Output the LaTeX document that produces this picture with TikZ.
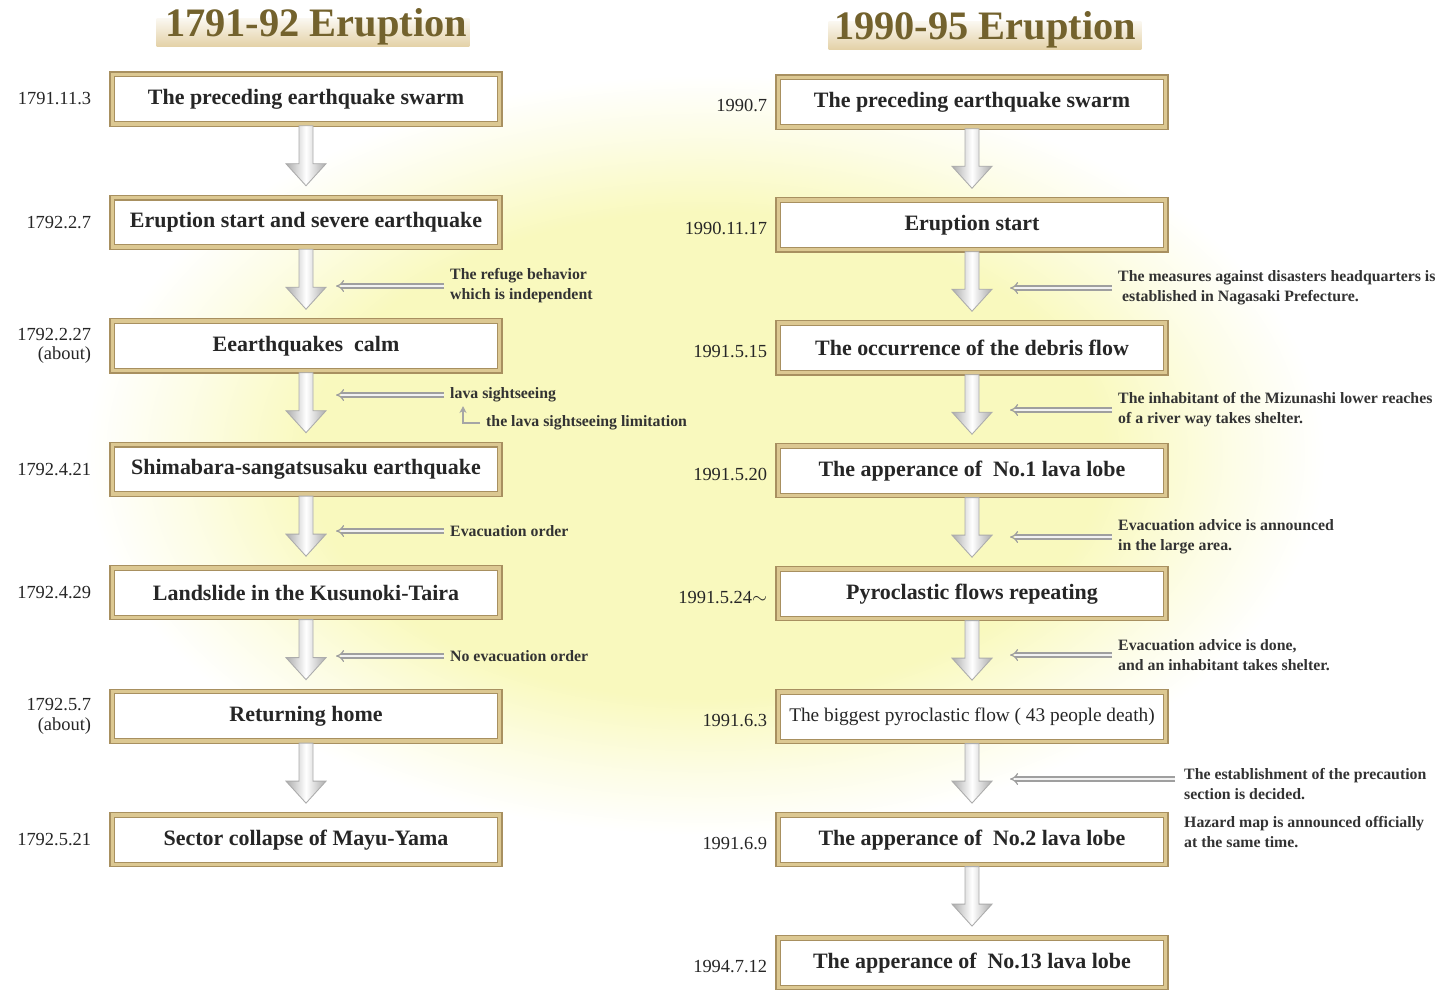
\documentclass[tikz,border=0pt]{standalone}
\usepackage{fontspec}
\setmainfont{Liberation Serif}
\usepackage{tikz}
\usetikzlibrary{positioning, calc, arrows.meta}

\definecolor{boxedge}{RGB}{168,144,96}
\definecolor{boxgold}{RGB}{220,200,146}
\definecolor{titletext}{RGB}{115,98,45}
\definecolor{titleband}{RGB}{228,210,168}
\definecolor{glowyellow}{RGB}{249,249,190}
\pgfdeclareradialshading{glow}{\pgfpoint{0bp}{0bp}}{color(0bp)=(glowyellow); color(16bp)=(glowyellow); color(21bp)=(glowyellow!40); color(25bp)=(white); color(50bp)=(white)}

\begin{document}
\begin{tikzpicture}[x=0.02cm, y=-0.02cm,
   event/.style={draw=boxedge, double=boxgold, double distance=2pt, line width=0.6pt,
      fill=white, minimum width=7.75cm, minimum height=0.99cm, outer sep=0pt,
      font=\fontsize{12.5}{14}\selectfont\bfseries, text=black!85},
   date/.style={font=\fontsize{10.5}{11}\selectfont, align=right, text=black!85},
   rdate/.style={date, yshift=-2pt},
   note/.style={font=\fontsize{9}{11.4}\selectfont\bfseries, align=left, anchor=west, text=black!80},
   heading/.style={font=\fontsize{23}{26}\selectfont\bfseries, text=titletext},
   band/.style={top color=titleband!15, bottom color=titleband, minimum width=6.26cm, minimum height=0.56cm, inner sep=0pt},
   sidearrow/.style={draw=gray!75, double=gray!10, double distance=1.6pt, line width=0.7pt, -{Implies[scale=1.4]}},
   hook/.style={draw=gray!70, line width=0.6pt, -{Stealth[length=4pt, width=4pt]}},
   bigarrow/.style={draw=gray!65, line width=0.5pt, left color=gray!65, right color=gray!65, middle color=white}]
   \path[use as bounding box, fill=white] (0,0) rectangle (1440,992);
   % yellow glow in the middle
   \shade[shading=glow] (705,455) ellipse [x radius=620, y radius=380];

   % Titles
   \node[band] (band1) at (313,32) {};
   \node[heading] (t1) at (316,27) {1791-92 Eruption};
   \node[band] (band2) at (985,35) {};
   \node[heading] (t2) at (985,30) {1990-95 Eruption};

   % 1791-92 chain
   \node[event] (l1) at (306,99) {The preceding earthquake swarm};
   \node[event, below = 1.48cm of l1] (l2) {Eruption start and severe earthquake};
   \node[event, below = 1.48cm of l2] (l3) {Eearthquakes~ calm};
   \node[event, below = 1.48cm of l3] (l4) {Shimabara-sangatsusaku earthquake};
   \node[event, below = 1.48cm of l4] (l5) {Landslide in the Kusunoki-Taira};
   \node[event, below = 1.48cm of l5] (l6) {Returning home};
   \node[event, below = 1.48cm of l6] (l7) {Sector collapse of Mayu-Yama};

   \node[date, left = 0.3cm of l1] (d1) {1791.11.3};
   \node[date, left = 0.3cm of l2] (d2) {1792.2.7};
   \node[date, left = 0.3cm of l3] (d3) {1792.2.27\\(about)};
   \node[date, left = 0.3cm of l4] (d4) {1792.4.21};
   \node[date, left = 0.3cm of l5] (d5) {1792.4.29};
   \node[date, left = 0.3cm of l6] (d6) {1792.5.7\\(about)};
   \node[date, left = 0.3cm of l7] (d7) {1792.5.21};

   % 1990-95 chain
   \node[event] (r1) at (972,102) {The preceding earthquake swarm};
   \node[event, below = 1.47cm of r1] (r2) {Eruption start};
   \node[event, below = 1.47cm of r2] (r3) {The occurrence of the debris flow};
   \node[event, below = 1.47cm of r3] (r4) {The apperance of~ No.1 lava lobe};
   \node[event, below = 1.47cm of r4] (r5) {Pyroclastic flows repeating};
   \node[event, below = 1.47cm of r5, font=\fontsize{11}{13}\selectfont] (r6) {The biggest pyroclastic flow ( 43 people death)};
   \node[event, below = 1.47cm of r6] (r7) {The apperance of~ No.2 lava lobe};
   \node[event, below = 1.47cm of r7] (r8) {The apperance of~ No.13 lava lobe};

   \node[rdate, left = 0.1cm of r1] (e1) {1990.7};
   \node[rdate, left = 0.1cm of r2] (e2) {1990.11.17};
   \node[rdate, left = 0.1cm of r3] (e3) {1991.5.15};
   \node[rdate, left = 0.1cm of r4] (e4) {1991.5.20};
   \node[rdate, left = 0.1cm of r5] (e5) {1991.5.24$\sim$};
   \node[rdate, left = 0.1cm of r6] (e6) {1991.6.3};
   \node[rdate, left = 0.1cm of r7] (e7) {1991.6.9};
   \node[rdate, left = 0.1cm of r8] (e8) {1994.7.12};

   % Big arrows between the events
   \foreach \a/\b/\s in {l1/l2/-7, l2/l3/-7, l3/l4/-7, l4/l5/-7, l5/l6/-7, l6/l7/-7,
                      r1/r2/-3, r2/r3/-3, r3/r4/-3, r4/r5/-3, r5/r6/-3, r6/r7/-3, r7/r8/-3}
      \shadedraw[bigarrow, xshift=\s*0.02cm] ($(\a.south)+(-7,2)$) -- ($(\b.north)+(-7,-34)$) -- ($(\b.north)+(-20,-34)$)
         -- ($(\b.north)+(0,-12)$) -- ($(\b.north)+(20,-34)$) -- ($(\b.north)+(7,-34)$) -- ($(\a.south)+(7,2)$) -- cycle;

   % Notes beside the arrows
   \node[note] (n1) at (444,286) {The refuge behavior\\which is independent};
   \node[note] (n2) at (444,395) {lava sightseeing};
   \node[note] (n3) at (480,423) {the lava sightseeing limitation};
   \node[note] (n4) at (444,531) {Evacuation order};
   \node[note] (n5) at (444,656) {No evacuation order};
   \node[note] (m1) at (1112,288) {The measures against disasters headquarters is\\\ established in Nagasaki Prefecture.};
   \node[note] (m2) at (1112,410) {The inhabitant of the Mizunashi lower reaches\\of a river way takes shelter.};
   \node[note] (m3) at (1112,537) {Evacuation advice is announced\\in the large area.};
   \node[note] (m4) at (1112,655) {Evacuation advice is done,\\and an inhabitant takes shelter.};
   \node[note] (m5) at (1178,784) {The establishment of the precaution\\section is decided.};
   \node[note] (m6) at (1178,832) {Hazard map is announced officially\\at the same time.};

   \draw[sidearrow] (n1.west) -- ($(n1.west -| l2.south)+(30,0)$);
   \draw[sidearrow] (n2.west) -- ($(n2.west -| l3.south)+(30,0)$);
   \draw[sidearrow] (n4.west) -- ($(n4.west -| l4.south)+(30,0)$);
   \draw[sidearrow] (n5.west) -- ($(n5.west -| l5.south)+(30,0)$);
   \draw[hook] (n3.west) -| ($(n3.west)+(-17,-17)$);
   \draw[sidearrow] (m1.west) -- ($(m1.west -| r2.south)+(38,0)$);
   \draw[sidearrow] (m2.west) -- ($(m2.west -| r3.south)+(38,0)$);
   \draw[sidearrow] (m3.west) -- ($(m3.west -| r4.south)+(38,0)$);
   \draw[sidearrow] (m4.west) -- ($(m4.west -| r5.south)+(38,0)$);
   \draw[sidearrow] ($(m5.west)+(-3,-5)$) -- ($(m5.west -| r6.south)+(38,-5)$);
\end{tikzpicture}
\end{document}
